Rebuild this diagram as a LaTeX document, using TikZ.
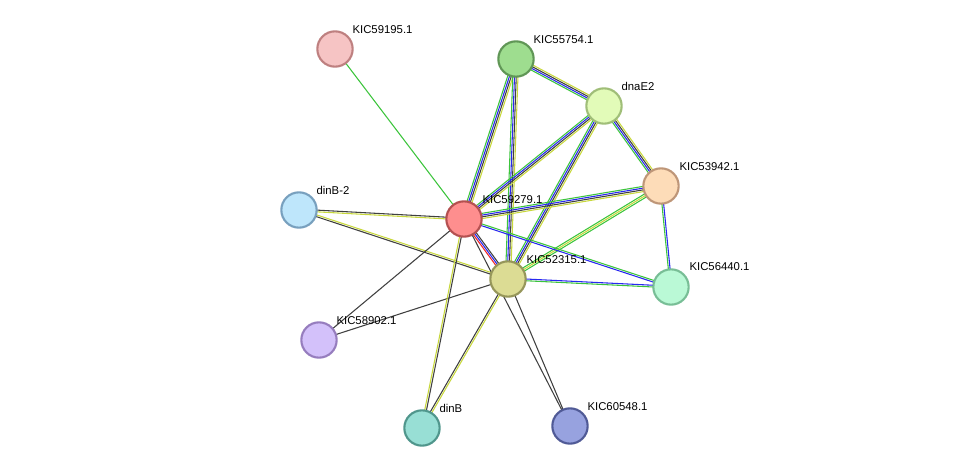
\documentclass[tikz,border=0pt]{standalone}
\usepackage{fontspec}
\setmainfont{Liberation Sans}
\usetikzlibrary{calc}
\definecolor{eg}{HTML}{3CC43C}
\definecolor{eb}{HTML}{2828F0}
\definecolor{ek}{HTML}{404040}
\definecolor{ey}{HTML}{C8D83C}
\definecolor{er}{HTML}{F02828}
\tikzset{
  prot/.style={circle,draw,line width=1.6pt,minimum size=26.5pt,inner sep=0pt},
  lab/.style={font=\fontsize{8.5pt}{9pt}\selectfont,anchor=south west,inner sep=1pt},
  e/.style={line width=0.8pt}
}
% multi-edge: #1 a, #2 b, #3 list of colors
\newcommand{\medge}[3]{%
  \foreach \c [count=\i] in {#3} {\xdef\nn{\i}}%
  \foreach \c [count=\i] in {#3} {%
    \pgfmathsetmacro{\o}{(\i-(\nn+1)/2)*1.3}%
    \draw[e,\c] ($(#1)!\o pt!90:(#2)$) -- ($(#2)!\o pt!-90:(#1)$);
  }%
}
\begin{document}
\begin{tikzpicture}[x=0.75pt,y=-0.75pt]
\useasboundingbox (0,0) rectangle (975,474);
\coordinate (A) at (335,49);
\coordinate (B) at (516,59);
\coordinate (C) at (604,106);
\coordinate (D) at (661,186);
\coordinate (E) at (299,210);
\coordinate (F) at (464,219);
\coordinate (G) at (508,279);
\coordinate (H) at (671,287);
\coordinate (I) at (319,340);
\coordinate (J) at (422,428);
\coordinate (K) at (570,426);
\medge{A}{F}{eg}
\medge{B}{F}{eg,eb,ek,ey}
\medge{B}{G}{eg,eb,ek,ey}
\medge{B}{C}{eg,eb,ek,ey}
\medge{C}{F}{eg,eb,ek,ey}
\medge{C}{G}{eg,eb,ek,ey}
\medge{C}{D}{eg,eb,ek,ey}
\medge{D}{F}{eg,eb,ek,ey}
\medge{D}{G}{eg,ey,eg}
\medge{D}{H}{eg,eb}
\medge{F}{H}{eb,eg}
\medge{G}{H}{eg,eb}
\medge{F}{G}{er,eb,ek}
\medge{E}{F}{ey,ek}
\medge{E}{G}{ek,ey}
\medge{F}{I}{ek}
\medge{G}{I}{ek}
\medge{F}{J}{ey,ek}
\medge{G}{J}{ek,ey}
\medge{F}{K}{ek}
\medge{G}{K}{ek}
\node[prot,fill={rgb,255:red,246;green,196;blue,196},draw={rgb,255:red,190;green,128;blue,128}] (nA) at (A) {};
\node[prot,fill={rgb,255:red,158;green,221;blue,143},draw={rgb,255:red,96;green,150;blue,86}] (nB) at (B) {};
\node[prot,fill={rgb,255:red,226;green,251;blue,184},draw={rgb,255:red,160;green,190;blue,120}] (nC) at (C) {};
\node[prot,fill={rgb,255:red,253;green,220;blue,184},draw={rgb,255:red,190;green,150;blue,120}] (nD) at (D) {};
\node[prot,fill={rgb,255:red,190;green,230;blue,251},draw={rgb,255:red,120;green,160;blue,190}] (nE) at (E) {};
\node[prot,fill={rgb,255:red,254;green,142;blue,142},draw={rgb,255:red,180;green,80;blue,80}] (nF) at (F) {};
\node[prot,fill={rgb,255:red,220;green,220;blue,148},draw={rgb,255:red,150;green,150;blue,90}] (nG) at (G) {};
\node[prot,fill={rgb,255:red,186;green,249;blue,214},draw={rgb,255:red,120;green,190;blue,150}] (nH) at (H) {};
\node[prot,fill={rgb,255:red,211;green,193;blue,250},draw={rgb,255:red,150;green,125;blue,190}] (nI) at (I) {};
\node[prot,fill={rgb,255:red,152;green,223;blue,213},draw={rgb,255:red,80;green,150;blue,140}] (nJ) at (J) {};
\node[prot,fill={rgb,255:red,151;green,162;blue,223},draw={rgb,255:red,80;green,90;blue,150}] (nK) at (K) {};
\node[lab] (lA) at (351,35) {KIC59195.1};
\node[lab] (lB) at (532,45) {KIC55754.1};
\node[lab] (lC) at (620,92) {dnaE2};
\node[lab] (lD) at (678,172) {KIC53942.1};
\node[lab] (lE) at (315,196) {dinB-2};
\node[lab] (lF) at (481,205) {KIC59279.1};
\node[lab] (lG) at (525,265) {KIC52315.1};
\node[lab] (lH) at (688,272) {KIC56440.1};
\node[lab] (lI) at (335,326) {KIC58902.1};
\node[lab] (lJ) at (438,414) {dinB};
\node[lab] (lK) at (586,412) {KIC60548.1};
\end{tikzpicture}
\end{document}
